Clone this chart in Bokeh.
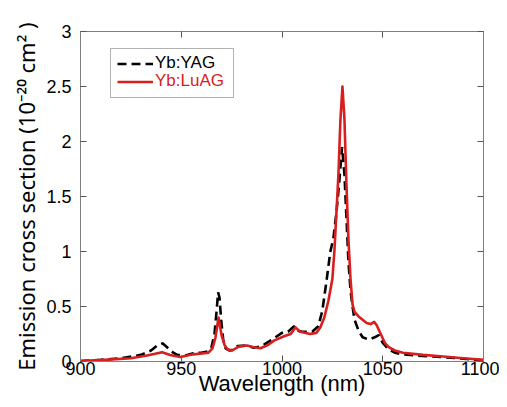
from bokeh.plotting import figure
from bokeh.models import (Legend, LegendItem, LinearAxis, FixedTicker, BoxAnnotation,
                          CustomJSTickFormatter, Range1d)
from bokeh.embed import file_html
from bokeh.resources import INLINE

# ---- data ----
wl_yag = [900, 910, 920, 930, 935, 938, 940.7, 943.5, 946, 948,
          952, 956, 960, 963, 965, 966.5, 967.5, 968.3, 969, 969.8,
          970.8, 972, 974, 976, 978, 982, 986, 990, 995, 1000,
          1003, 1006, 1008, 1010, 1015, 1018, 1020, 1022, 1024, 1025.5,
          1027, 1028.5, 1029.8, 1031, 1032, 1033, 1034, 1035, 1036, 1038,
          1040, 1043, 1046, 1048, 1050, 1053, 1056, 1060, 1070, 1080,
          1090, 1100]
sig_yag = [0.005, 0.015, 0.03, 0.06, 0.1, 0.145, 0.165, 0.12, 0.08, 0.06,
           0.055, 0.075, 0.08, 0.09, 0.13, 0.25, 0.45, 0.63, 0.58, 0.38,
           0.2, 0.12, 0.1, 0.11, 0.14, 0.145, 0.125, 0.14, 0.2, 0.26,
           0.27, 0.32, 0.28, 0.27, 0.27, 0.32, 0.46, 0.72, 1.0, 1.12,
           1.35, 1.65, 1.95, 1.7, 1.3, 0.9, 0.65, 0.5, 0.38, 0.28,
           0.22, 0.2, 0.22, 0.24, 0.17, 0.11, 0.08, 0.065, 0.05, 0.04,
           0.025, 0.01]

wl_luag = [900, 912, 925, 933, 937, 940.5, 944.5, 949.5, 956, 963.5,
           965.5, 967, 968.5, 970, 971.5, 973, 975.3, 978.5, 982.7, 986,
           989.3, 993, 996, 1001, 1004.3, 1006.7, 1009, 1014, 1017, 1019,
           1021, 1023, 1025, 1026, 1027, 1028, 1029, 1030, 1031, 1032,
           1033, 1034, 1035, 1036, 1038, 1040, 1042, 1044, 1045.7, 1047,
           1049, 1051, 1053, 1056, 1060, 1070, 1080, 1090, 1100]
sig_luag = [0.005, 0.015, 0.03, 0.055, 0.07, 0.085, 0.06, 0.04, 0.065, 0.08,
            0.12, 0.22, 0.40, 0.24, 0.15, 0.11, 0.1, 0.135, 0.145, 0.13,
            0.12, 0.15, 0.19, 0.23, 0.25, 0.31, 0.27, 0.25, 0.26, 0.31,
            0.4, 0.55, 0.75, 1.0, 1.35, 1.7, 2.2, 2.5, 2.2, 1.6,
            1.1, 0.75, 0.52, 0.45, 0.41, 0.38, 0.35, 0.34, 0.36, 0.33,
            0.25, 0.17, 0.13, 0.1, 0.08, 0.06, 0.045, 0.03, 0.015]

series_names = ["Yb:YAG", "Yb:LuAG"]
x_ticks = [900, 950, 1000, 1050, 1100]
y_ticks = [0, 0.5, 1, 1.5, 2, 2.5, 3]
y_tick_labels = ["0", "0.5", "1", "1.5", "2", "2.5", "3"]
x_label = "Wavelength (nm)"
y_label = "Emission cross section (10\u207b\u00b2\u2070 cm\u00b2 )"

FONT = "Liberation Sans"
AXIS_GRAY = "#808080"
RED = "#d81e1e"

p = figure(width=499, height=399, x_range=Range1d(900, 1100), y_range=Range1d(0, 3),
           output_backend="svg", toolbar_location=None,
           min_border_left=80, min_border_right=16, min_border_top=31, min_border_bottom=38)
p.grid.visible = False
p.outline_line_color = AXIS_GRAY
p.background_fill_color = "white"
p.border_fill_color = "white"

r_yag = p.line(wl_yag, sig_yag, line_color="black", line_width=2.6, line_dash="9 5")
r_lu = p.line(wl_luag, sig_luag, line_color=RED, line_width=2.6, line_join="round")

def style_axis(ax, show_labels, standoff):
    ax.axis_line_color = AXIS_GRAY
    ax.major_tick_line_color = "#555555"
    ax.major_tick_in = 6
    ax.major_tick_out = 0
    ax.minor_tick_line_color = None
    ax.major_label_text_font = FONT
    ax.major_label_text_font_size = "18px"
    ax.major_label_text_color = "black"
    ax.major_label_standoff = standoff
    if not show_labels:
        ax.formatter = CustomJSTickFormatter(code="return ''")
        ax.major_label_standoff = 0

xa = p.xaxis[0]
xa.ticker = FixedTicker(ticks=x_ticks)
style_axis(xa, True, 0)
xa.axis_label = x_label
xa.axis_label_text_font = FONT
xa.axis_label_text_font_size = "22px"
xa.axis_label_text_font_style = "normal"
xa.axis_label_text_color = "black"
xa.axis_label_standoff = -7

ya = p.yaxis[0]
ya.ticker = FixedTicker(ticks=y_ticks)
ya.major_label_overrides = {t: s for t, s in zip(y_ticks, y_tick_labels)}
style_axis(ya, True, 9)
ya.axis_label = y_label
ya.axis_label_text_font = "Noto Sans"
ya.axis_label_text_font_size = "22px"
ya.axis_label_text_font_style = "normal"
ya.axis_label_text_color = "black"
ya.axis_label_standoff = 2

top_ax = LinearAxis(ticker=FixedTicker(ticks=x_ticks))
style_axis(top_ax, False, 0)
p.add_layout(top_ax, "above")
right_ax = LinearAxis(ticker=FixedTicker(ticks=y_ticks))
style_axis(right_ax, False, 0)
p.add_layout(right_ax, "right")

# legend box
box = BoxAnnotation(left=110, right=233, top=48, bottom=97,
                    left_units="canvas", right_units="canvas",
                    top_units="canvas", bottom_units="canvas",
                    fill_color="white", fill_alpha=1.0,
                    line_color="black", line_width=1)
p.add_layout(box)

def make_legend(name, renderer, color, loc):
    return Legend(items=[LegendItem(label=name, renderers=[renderer])], location=loc,
                  margin=0, padding=0, spacing=0, glyph_width=36, glyph_height=19,
                  label_height=19, label_standoff=2,
                  label_text_font=FONT, label_text_font_size="17px",
                  label_text_color=color, border_line_alpha=0, background_fill_alpha=0)

p.add_layout(make_legend(series_names[0], r_yag, "black", (37, 288)))
p.add_layout(make_legend(series_names[1], r_lu, RED, (37, 270)))

open("out.html", "w").write(file_html(p, INLINE))
